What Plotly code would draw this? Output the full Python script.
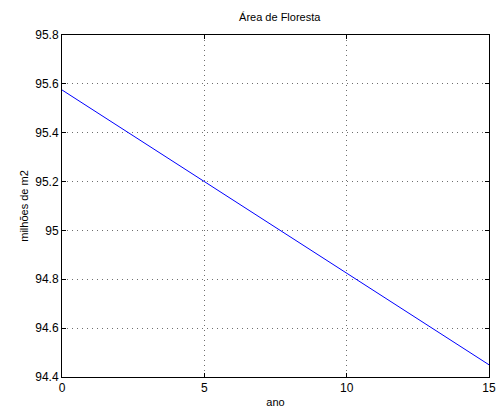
import plotly.graph_objects as go

# Forest area over the years (millions of m2)
anos = [0, 5, 10, 15]
area = [95.575, 95.2, 94.825, 94.45]

x_ticks = [0, 5, 10, 15]
y_ticks = [94.4, 94.6, 94.8, 95.0, 95.2, 95.4, 95.6, 95.8]
y_labels = ["94.4", "94.6", "94.8", "95", "95.2", "95.4", "95.6", "95.8"]

font = "Liberation Sans, Arial, sans-serif"

fig = go.Figure(
    go.Scatter(x=anos, y=area, mode="lines",
               line=dict(color="#0000ff", width=1))
)

axis_common = dict(
    showline=True, linecolor="black", linewidth=1, mirror="ticks",
    ticks="inside", ticklen=4, tickcolor="black",
    showgrid=True, gridcolor="#6e6e6e", griddash="1px,4px", gridwidth=1,
    zeroline=False, tickfont=dict(family=font, size=12, color="black"),
)

fig.update_layout(
    width=504, height=414,
    margin=dict(l=62, r=8, t=35, b=35),
    paper_bgcolor="white", plot_bgcolor="white",
    showlegend=False,
    title=dict(text="Área de Floresta", x=0.555, xanchor="center",
               y=1 - 17 / 414, yanchor="middle",
               font=dict(family=font, size=11, color="black")),
    xaxis=dict(range=[0, 15], tickvals=x_ticks, ticklabelstandoff=0,
               title=dict(text="ano", standoff=3,
                          font=dict(family=font, size=11, color="black")),
               **axis_common),
    yaxis=dict(range=[94.4, 95.8], tickvals=y_ticks, ticktext=y_labels,
               title=dict(text="milhões de m2", standoff=4,
                          font=dict(family=font, size=11, color="black")),
               **axis_common),
)

fig.write_html("out.html")
